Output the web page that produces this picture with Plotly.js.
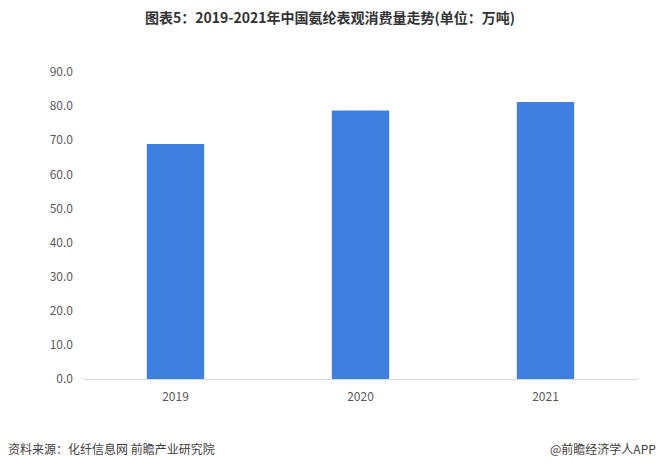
<!DOCTYPE html>
<html>
<head>
<meta charset="utf-8">
<script src="https://cdn.plot.ly/plotly-3.0.1.min.js"></script>
<style>html,body{margin:0;padding:0;background:#fff;}#chart{width:660px;height:468px;}</style>
</head>
<body>
<div id="chart"></div>
<script>
const years = ['2019', '2020', '2021'];
const consumption = [68.9, 78.7, 81.2];
const yTicks = [0, 10, 20, 30, 40, 50, 60, 70, 80, 90];

const trace = {
  type: 'bar',
  x: years,
  y: consumption,
  marker: {color: '#3e80e0'},
  hoverinfo: 'x+y'
};

const layout = {
  width: 660,
  height: 468,
  margin: {l: 83, r: 22, t: 72, b: 89},
  paper_bgcolor: '#ffffff',
  plot_bgcolor: '#ffffff',
  bargap: 0.69,
  showlegend: false,
  font: {family: '"Noto Sans CJK SC", "Noto Sans", sans-serif', size: 12, color: '#595959'},
  title: {
    text: '<b>图表5：2019-2021年中国氨纶表观消费量走势(单位：万吨)</b>',
    x: 0.5, xanchor: 'center', y: 0.962, yanchor: 'middle',
    font: {family: '"Noto Sans CJK SC", sans-serif', size: 14, color: '#333333'}
  },
  xaxis: {
    type: 'category',
    showgrid: false,
    showline: true,
    linecolor: '#d9d9d9',
    linewidth: 1,
    ticks: '',
    ticklabelstandoff: 7,
    tickfont: {size: 12, color: '#595959'},
    zeroline: false
  },
  yaxis: {
    range: [0, 90],
    tickvals: yTicks,
    ticktext: yTicks.map(v => v.toFixed(1)),
    showgrid: false,
    zeroline: false,
    showline: false,
    ticks: '',
    ticklabelstandoff: 9,
    tickfont: {size: 12, color: '#595959'}
  },
  annotations: [
    {text: '资料来源：化纤信息网 前瞻产业研究院', xref: 'paper', yref: 'paper', x: -0.139, y: -0.225,
     xanchor: 'left', yanchor: 'middle', showarrow: false,
     font: {size: 12, color: '#404040'}},
    {text: '@前瞻经济学人APP', xref: 'paper', yref: 'paper', x: 1.036, y: -0.225,
     xanchor: 'right', yanchor: 'middle', showarrow: false,
     font: {size: 12, color: '#404040'}}
  ]
};

Plotly.newPlot('chart', [trace], layout, {displayModeBar: false, staticPlot: true});
</script>
</body>
</html>
